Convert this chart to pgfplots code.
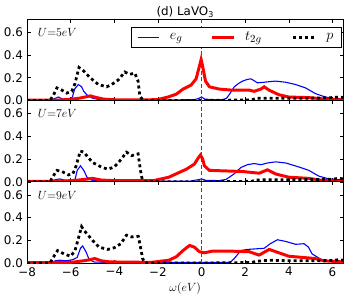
\documentclass[12pt,border=0pt]{standalone}
\usepackage{fontspec}
\setmainfont{DejaVu Sans}
\usepackage{pgfplots}
\pgfplotsset{compat=1.18}
\usepgfplotslibrary{groupplots}
\definecolor{egblue}{rgb}{0,0,1}
\definecolor{tred}{rgb}{1,0,0}
\begin{document}
\begin{tikzpicture}
\pgfplotsset{
  every axis/.append style={
    width=319pt, height=82pt, scale only axis,
    xmin=-8, xmax=6.5, ymin=0, ymax=0.715,
    xtick={-8,-6,-4,-2,0,2,4,6},
    ytick={0,0.2,0.4,0.6},
    yticklabels={0.0,0.2,0.4,0.6},
    tick align=inside, major tick length=3.5pt,
    xtick pos=both, ytick pos=both,
    tick style={black, line width=0.5pt},
    axis line style={black, line width=0.6pt},
    tick label style={font=\fontsize{12}{14}\selectfont},
    clip=true,
  },
}
\tikzset{
  eg/.style={color=egblue, draw=egblue, line width=1.1pt},
  tg/.style={color=tred, draw=tred, line width=3pt},
  pp/.style={color=black, draw=black, line width=2.8pt, dash pattern=on 3pt off 3pt},
  zl/.style={color=black!70, draw=black!70, line width=0.7pt, dash pattern=on 4pt off 2.5pt},
}
\begin{groupplot}[group style={group size=1 by 3, vertical sep=0pt}]
% ---------- U = 5 eV
\nextgroupplot[xticklabels={},
  legend image code/.code={\draw[#1] (0pt,0pt) -- (22pt,0pt);},
  legend style={at={(0.994,0.906)}, anchor=north east, legend columns=3,
    fill=white,
    font=\fontsize{15}{17}\selectfont, inner xsep=6pt, inner ysep=3pt,
    /tikz/every odd column/.append style={column sep=8pt},
    /tikz/every even column/.append style={column sep=8pt}}]
\addplot[eg] coordinates {(-8,0.003) (-6.9,0.003) (-6.75,0.015) (-6.56,0.03) (-6.4,0.015) (-6.2,0.006) (-6.0,0.015) (-5.92,0.03) (-5.82,0.1) (-5.65,0.14) (-5.5,0.12) (-5.4,0.08) (-5.26,0.05) (-5.0,0.02) (-4.7,0.008) (-3,0.005) (-1,0.005) (-0.3,0.008) (-0.1,0.02) (0,0.03) (0.15,0.012) (0.5,0.006) (1.0,0.008) (1.15,0.02) (1.3,0.06) (1.5,0.12) (1.7,0.15) (1.88,0.17) (2.1,0.185) (2.26,0.19) (2.4,0.175) (2.56,0.155) (2.87,0.16) (3.1,0.165) (3.4,0.17) (3.86,0.16) (4.31,0.14) (4.77,0.11) (5.22,0.06) (5.68,0.03) (6.14,0.015) (6.5,0.01)};
\addlegendentry{\makebox[31pt][l]{$e_g$}}
\addplot[tg] coordinates {(-8,0.003) (-6.5,0.004) (-6.0,0.01) (-5.6,0.02) (-5.1,0.04) (-4.8,0.025) (-4.5,0.012) (-4.0,0.006) (-2.5,0.005) (-2.0,0.008) (-1.54,0.03) (-1.16,0.055) (-0.85,0.1) (-0.48,0.135) (-0.25,0.19) (-0.1,0.3) (-0.02,0.36) (0.05,0.3) (0.18,0.17) (0.36,0.12) (0.81,0.1) (1.43,0.09) (2.2,0.09) (2.41,0.08) (2.72,0.1) (2.87,0.12) (3.1,0.09) (3.55,0.05) (4.0,0.03) (4.92,0.025) (5.5,0.015) (6.5,0.005)};
\addlegendentry{\makebox[37pt][l]{$t_{2g}$}}
\addplot[pp] coordinates {(-8,0) (-6.95,0) (-6.78,0.05) (-6.63,0.11) (-6.4,0.09) (-6.18,0.065) (-5.95,0.08) (-5.8,0.15) (-5.62,0.29) (-5.41,0.26) (-5.11,0.2) (-4.73,0.14) (-4.35,0.12) (-4.12,0.14) (-3.82,0.18) (-3.52,0.25) (-3.29,0.23) (-3.06,0.24) (-2.91,0.17) (-2.83,0.04) (-2.68,0) (0,0) (1,0.002) (2.3,0.005) (2.5,0.018) (3,0.02) (4,0.02) (5,0.02) (6,0.025) (6.3,0.03) (6.5,0.025)};
\addlegendentry{$p$}
\addplot[zl, forget plot] coordinates {(0,0) (0,0.715)};
\node[anchor=north west, inner sep=0pt, font=\fontsize{12}{14}\selectfont] at ([xshift=10.7pt,yshift=-9pt]rel axis cs:0,1) {$U{=}5eV$};
% ---------- U = 7 eV
\nextgroupplot[xticklabels={}]
\addplot[eg] coordinates {(-8,0.003) (-6.9,0.003) (-6.7,0.018) (-6.5,0.025) (-6.3,0.015) (-6.0,0.008) (-5.8,0.02) (-5.7,0.1) (-5.55,0.14) (-5.4,0.1) (-5.25,0.04) (-5.0,0.01) (-3,0.005) (-0.5,0.006) (-0.1,0.02) (0,0.025) (0.2,0.012) (0.8,0.01) (1.12,0.02) (1.5,0.07) (1.8,0.125) (2.1,0.15) (2.41,0.16) (2.72,0.15) (3.02,0.165) (3.4,0.175) (3.86,0.165) (4.46,0.13) (4.92,0.1) (5.37,0.05) (5.83,0.025) (6.5,0.015)};
\addplot[tg] coordinates {(-8,0.003) (-6.5,0.005) (-5.8,0.012) (-5.3,0.022) (-5.0,0.03) (-4.6,0.015) (-4.0,0.01) (-2.2,0.01) (-1.5,0.04) (-1.16,0.07) (-0.7,0.11) (-0.33,0.155) (-0.15,0.21) (-0.05,0.235) (0.05,0.2) (0.13,0.14) (0.36,0.1) (1.12,0.095) (1.88,0.09) (2.64,0.075) (3.02,0.105) (3.4,0.068) (4.0,0.04) (4.9,0.03) (5.6,0.01) (6.5,0.005)};
\addplot[pp] coordinates {(-8,0) (-6.95,0) (-6.8,0.05) (-6.63,0.1) (-6.4,0.09) (-6.1,0.06) (-5.9,0.07) (-5.75,0.14) (-5.56,0.27) (-5.4,0.26) (-5.0,0.17) (-4.6,0.13) (-4.3,0.11) (-4.0,0.13) (-3.74,0.185) (-3.44,0.26) (-3.2,0.23) (-2.91,0.245) (-2.8,0.1) (-2.72,0.02) (-2.6,0) (0,0) (2.3,0.004) (2.5,0.015) (3,0.018) (4,0.018) (5,0.02) (6,0.022) (6.3,0.03) (6.5,0.025)};
\addplot[zl, forget plot] coordinates {(0,0) (0,0.715)};
\node[anchor=north west, inner sep=0pt, font=\fontsize{12}{14}\selectfont] at ([xshift=10.7pt,yshift=-9pt]rel axis cs:0,1) {$U{=}7eV$};
% ---------- U = 9 eV
\nextgroupplot[xticklabels={−8,−6,−4,−2,0,2,4,6},
  xlabel={$\omega(eV)$}, xlabel style={font=\fontsize{12}{14}\selectfont, yshift=2pt}]
\addplot[eg] coordinates {(-8,0.003) (-6.9,0.003) (-6.7,0.02) (-6.5,0.025) (-6.2,0.02) (-5.9,0.03) (-5.7,0.05) (-5.55,0.13) (-5.45,0.15) (-5.3,0.1) (-5.15,0.03) (-4.9,0.008) (-3,0.005) (1.3,0.005) (1.5,0.04) (1.8,0.11) (2.1,0.12) (2.5,0.125) (2.87,0.13) (3.15,0.17) (3.48,0.205) (3.86,0.19) (4.31,0.165) (4.7,0.17) (4.9,0.14) (5.07,0.08) (5.5,0.03) (5.8,0.015) (6.5,0.012)};
\addplot[tg] coordinates {(-8,0.003) (-6,0.006) (-5.4,0.02) (-5.1,0.03) (-4.9,0.04) (-4.6,0.02) (-4.2,0.01) (-2.3,0.006) (-1.5,0.025) (-1.16,0.055) (-0.85,0.11) (-0.55,0.155) (-0.33,0.14) (-0.1,0.1) (0.13,0.09) (0.5,0.105) (1.27,0.105) (2.18,0.1) (2.64,0.07) (3.1,0.12) (3.55,0.09) (4.0,0.06) (4.6,0.05) (5.2,0.04) (5.6,0.02) (6.5,0.01)};
\addplot[pp] coordinates {(-8,0) (-6.95,0) (-6.8,0.05) (-6.6,0.11) (-6.3,0.08) (-6.0,0.06) (-5.8,0.11) (-5.5,0.32) (-5.4,0.29) (-5.0,0.2) (-4.7,0.14) (-4.3,0.12) (-4.0,0.135) (-3.7,0.17) (-3.44,0.245) (-3.2,0.23) (-2.9,0.235) (-2.8,0.14) (-2.7,0.04) (-2.6,0) (0,0) (2.3,0.005) (2.5,0.015) (3.1,0.025) (4,0.02) (5,0.02) (6,0.022) (6.3,0.03) (6.5,0.025)};
\addplot[zl, forget plot] coordinates {(0,0) (0,0.715)};
\node[anchor=north west, inner sep=0pt, font=\fontsize{12}{14}\selectfont] at ([xshift=10.7pt,yshift=-9pt]rel axis cs:0,1) {$U{=}9eV$};
\end{groupplot}
\node[anchor=base, font=\fontsize{12}{14}\selectfont] at ([yshift=3.5pt]group c1r1.north) {(d) LaVO\textsubscript{3}};
\path (group c1r1.north west) ++(-24.3pt,19.3pt) coordinate (tl);
\path (group c1r3.south east) ++(5.7pt,-38pt) coordinate (br);
\path (tl) rectangle (br);
\end{tikzpicture}
\end{document}
